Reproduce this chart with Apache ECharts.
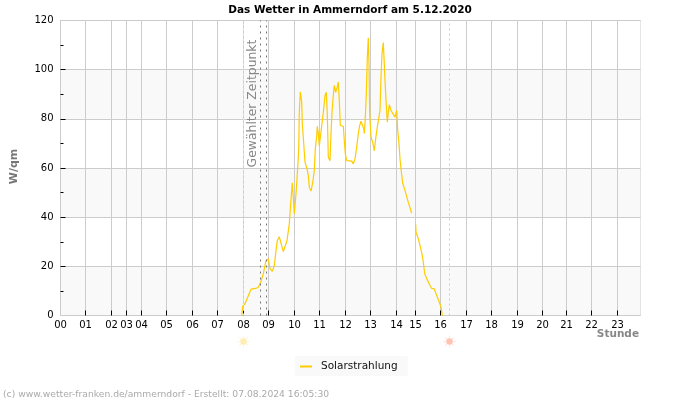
<!DOCTYPE html>
<html><head><meta charset="utf-8">
<script src="https://cdn.jsdelivr.net/npm/echarts@6/dist/echarts.min.js"></script>
<style>html,body{margin:0;padding:0;background:#fff}#c{width:700px;height:400px}</style>
</head><body><div id="c"></div>
<script>
const hourLabels = ["00","01","02","03","04","05","06","07","08","09","10","11","12","13","14","15","16","17","18","19","20","21","22","23"];
const hourSlots = [0,25,51,66,81,106,132,157,183,208,234,259,285,310,336,355,380,406,431,457,482,506,531,557];
const yMajor = [20,40,60,80,100];
const yMinor = [10,30,50,70,90,110];
const sampleSlots = [181.2,182.2,184.5,187.8,190.5,195.2,197.8,200.2,202.8,205.5,207.8,209.5,211.8,213.8,215.5,216.8,218.8,220.8,222.8,224.8,226.5,228.8,230.2,231.8,233.8,235.5,237.2,238.2,238.8,239.8,241.2,241.8,242.8,243.8,244.5,246.5,247.8,248.8,250.5,252.2,253.8,254.8,256.2,256.8,257.8,258.8,260.5,261.8,263.2,264.5,265.8,266.8,267.8,269.5,270.5,271.5,272.8,273.8,275.2,276.8,277.8,278.8,279.8,282.8,283.8,284.8,286.2,287.2,291.2,292.8,294.5,296.2,297.8,299.2,300.5,301.8,303.2,303.8,304.8,305.8,306.8,307.8,308.5,309.2,310.5,312.2,313.8,315.2,316.8,318.5,319.5,320.5,321.5,322.8,323.5,324.5,325.5,326.8,327.8,328.8,330.5,332.8,334.5,336.2,337.2,338.5,339.5,340.5,342.2,344.5,347.8,351.2,353,355.2,355.5,357.8,359.5,361.5,362.8,364.2,366.2,369.5,371.2,373.8,376.2,378.8,380.5,381.8];
const solar = [0,3.7,4.8,8,10.7,11,11.5,13.5,17,22.4,23,19,18,20.3,26.4,30.5,32,32,26,26,30.5,37.3,45.5,54,41.4,49.5,60,67.4,82.7,91,86.8,78,72.5,66.4,62.4,59.7,57,52.2,50.6,54,59,67.8,73,77,74,69,69,79.3,84,89.5,90.8,82,64.4,63,74,82.7,89.5,93.6,90.8,93,95,87.5,77.3,77,71.2,65.8,63,62.8,62.8,61.7,63.7,68.5,74,77.3,79,79,76,74,80.4,90,105,113,102.4,82,72.5,70.5,67,72,76.6,76.2,83.4,97,106.4,111,105,95.6,87.5,78.6,82.7,85.8,83.4,81.8,80.7,83.4,75.3,69.9,63.7,59.7,53.8,50.9,46,41.6,null,37,33.9,31.2,28.5,25,21.7,17,15,12.2,11,10.8,8.1,5.4,3.4,0];
const sunriseSlot = 183, sunsetSlot = 389;
const selectedSlots = [200,206];
const sunRow = -10.6;
const titleText = "Das Wetter in Ammerndorf am 5.12.2020";
const footerText = "(c) www.wetter-franken.de/ammerndorf - Erstellt: 07.08.2024 16:05:30";

const font = "DejaVu Sans";
const rays = "path://M9.4 0h1.2v4h-1.2zM9.4 16h1.2v4h-1.2zM0 9.4h4v1.2h-4zM16 9.4h4v1.2h-4zM2.6 3.4l.8-.8 2.8 2.8-.8.8zM13.8 14.6l.8-.8 2.8 2.8-.8.8zM2.6 16.6l2.8-2.8.8.8-2.8 2.8zM13.8 5.4l2.8-2.8.8.8-2.8 2.8z";
const yLimits = {type:'value',min:0,max:120,interval:20};
const chart = echarts.init(document.getElementById('c'),null,{renderer:'canvas'});
chart.setOption({
  animation:false,
  backgroundColor:'#fff',
  textStyle:{fontFamily:font},
  title:{text:titleText,left:'center',top:0,textStyle:{fontFamily:font,fontSize:10.5,fontWeight:'bold',color:'#000'}},
  grid:{left:60.5,top:20.5,width:580,height:295,show:true,borderColor:'#ccc',borderWidth:1,backgroundColor:'transparent'},
  legend:{
    left:295,top:356,data:[{name:'Solarstrahlung',icon:'rect'}],backgroundColor:'#f9f9f9',
    padding:[5,10,4,5],itemWidth:12,itemHeight:2,
    textStyle:{fontFamily:font,fontSize:10.5,color:'#111',padding:[0,0,0,4]}
  },
  xAxis:{
    type:'value',min:0,max:580,
    axisLine:{show:false},
    axisTick:{show:true,inside:true,length:5,lineStyle:{color:'#000',width:1},customValues:hourSlots.slice(1)},
    axisLabel:{show:true,margin:5,fontSize:10,color:'#000',fontFamily:font,hideOverlap:false,
      customValues:hourSlots,formatter:v=>hourLabels[hourSlots.indexOf(v)]},
    splitLine:{show:true,lineStyle:{color:'#ccc',width:1}}
  },
  yAxis:[
    Object.assign({},yLimits,{
      name:'W/qm',nameLocation:'middle',nameGap:41,
      nameTextStyle:{fontFamily:font,fontSize:11,fontWeight:'bold',color:'#777',padding:[0,0,0,3]},
      axisLine:{show:true,lineStyle:{color:'#ccc'}},
      axisTick:{show:false},
      axisLabel:{margin:7,fontSize:10,color:'#000',fontFamily:font},
      splitLine:{show:true,lineStyle:{color:'#ccc',width:1}},
      splitArea:{show:true,areaStyle:{color:['#f9f9f9','#ffffff']}}
    }),
    Object.assign({},yLimits,{position:'left',axisLine:{show:false},axisLabel:{show:false},splitLine:{show:false},
      axisTick:{show:true,inside:true,length:5,lineStyle:{color:'#000'},customValues:yMajor}}),
    Object.assign({},yLimits,{position:'left',axisLine:{show:false},axisLabel:{show:false},splitLine:{show:false},
      axisTick:{show:true,inside:true,length:3,lineStyle:{color:'#000'},customValues:yMinor}})
  ],
  series:[
    {
      name:'Solarstrahlung',type:'line',symbol:'none',showSymbol:false,connectNulls:false,
      data:sampleSlots.map((s,i)=>[s,solar[i]]),
      lineStyle:{color:'#ffcc00',width:1.2},itemStyle:{color:'#ffcc00'},
      markLine:{
        silent:true,symbol:'none',label:{show:false},
        data:[
          {xAxis:sunriseSlot,lineStyle:{color:'#ffe680',type:[2,3],width:1}},
          {xAxis:sunsetSlot,lineStyle:{color:'#f5c48a',type:[2,3],width:1}},
          {xAxis:selectedSlots[0],lineStyle:{color:'#777',type:[2,4],width:1}},
          {xAxis:selectedSlots[1],lineStyle:{color:'#777',type:[2,4],width:1}}
        ]
      }
    },
    {type:'scatter',clip:false,silent:true,symbol:rays,symbolSize:12,
      data:[{value:[sunriseSlot,sunRow],itemStyle:{color:'#ffeeb0'}},{value:[sunsetSlot,sunRow],itemStyle:{color:'#ffcfc0'}}]},
    {type:'scatter',clip:false,silent:true,symbol:'circle',symbolSize:6.5,
      data:[{value:[sunriseSlot,sunRow],itemStyle:{color:'#ffe9a0'}},{value:[sunsetSlot,sunRow],itemStyle:{color:'#ffb4a0'}}]}
  ],
  graphic:[
    {type:'text',z:10,x:253,y:103.5,rotation:Math.PI/2,style:{text:'Gewählter Zeitpunkt',font:'12.4px "DejaVu Sans"',fill:'#888',textAlign:'center',textVerticalAlign:'middle'}},
    {type:'text',z:10,x:639,y:334,style:{text:'Stunde',font:'bold 10.5px "DejaVu Sans"',fill:'#888',textAlign:'right',textVerticalAlign:'middle'}},
    {type:'text',z:10,x:3,y:394.5,style:{text:footerText,font:'9.2px "DejaVu Sans"',fill:'#aaa',textAlign:'left',textVerticalAlign:'middle'}}
  ]
});
</script></body></html>
